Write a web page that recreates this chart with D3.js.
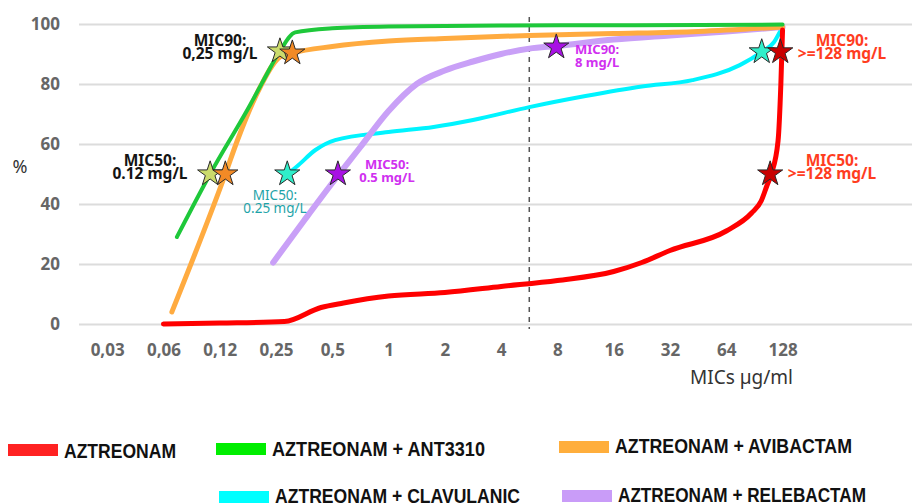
<!DOCTYPE html>
<html>
<head>
<meta charset="utf-8">
<script src="https://cdn.jsdelivr.net/npm/d3@7"></script>
<style>
  html, body { margin: 0; padding: 0; background: #fff; }
  svg { display: block; font-family: "Noto Sans", "Open Sans", sans-serif; }
</style>
</head>
<body>
<svg id="chart" width="912" height="504"></svg>
<script>
// x axis categories (MIC, log2 steps)
const micLabels = ["0,03", "0,06", "0,12", "0,25", "0,5", "1", "2", "4", "8", "16", "32", "64", "128"];
const micLog2 = [-5, -4, -3, -2, -1, 0, 1, 2, 3, 4, 5, 6, 7];
const yTicks = [0, 20, 40, 60, 80, 100];

// cumulative % of isolates, points as [log2(MIC), %]
const aztreonam = [[-4, 0], [-3, 0.3], [-1.85, 0.8], [-1.2, 5.5], [-0.8, 7], [0, 9.3], [1, 10.5], [2, 12.5],
  [3, 14.5], [4, 17.5], [4.5, 20.5], [5, 24.5], [6, 31], [6.45, 37], [6.62, 41], [6.72, 46], [6.8, 50],
  [6.92, 61], [6.97, 80], [7, 98]];
const aztAnt3310 = [[-3.76, 29], [-3.17, 50], [-2.46, 73], [-2.2, 82], [-1.93, 91], [-1.66, 97.2],
  [-1, 98.6], [0, 99.2], [2, 99.5], [4, 99.6], [7, 99.8]];
const aztAvibactam = [[-3.85, 4], [-2.9, 50], [-2.69, 61], [-2.28, 79], [-1.93, 89], [-1.71, 90.3], [-1, 92.5],
  [0, 94.3], [1, 95.2], [2.5, 96.2], [4, 96.8], [5.5, 97.5], [7, 99]];
const aztClavulanic = [[-1.8, 50], [-1.63, 52.5], [-1.3, 58], [-0.95, 61.3], [0, 64], [0.8, 65.7], [1.5, 68],
  [2.5, 72.3], [3.5, 76], [4.5, 79.2], [5.4, 81.3], [6.24, 86.3], [6.63, 90.7], [6.85, 94], [6.97, 98]];
const aztRelebactam = [[-2.05, 20.5], [-1.5, 34.5], [-1, 47], [-0.5, 59], [0, 71], [0.5, 80], [1, 84.5],
  [1.5, 87.5], [2, 90], [2.5, 91.8], [3, 92.7], [4, 94.8], [5, 96.2], [6, 97.5], [7, 99]];

const seriesNames = ["AZTREONAM", "AZTREONAM + ANT3310", "AZTREONAM + AVIBACTAM",
  "AZTREONAM + CLAVULANIC", "AZTREONAM + RELEBACTAM"];
const seriesData = [aztreonam, aztAnt3310, aztAvibactam, aztClavulanic, aztRelebactam];

// MIC50 / MIC90 markers: [series index, log2(MIC), %]
const micStars = [
  [1, -3.17, 50], [2, -2.9, 50], [1, -1.93, 91], [2, -1.71, 90.3],
  [3, -1.8, 50], [4, -0.9, 50], [4, 2.98, 92.3],
  [3, 6.63, 90.7], [0, 6.78, 50], [0, 6.96, 90.7]
];

// styling
const lineColors = ["#ff0000", "#1ec83a", "#ffab40", "#00f4ff", "#c9a0f7"];
const lineWidths = [5, 4, 5, 4, 6];
const legendColors = ["#ff2222", "#00ee00", "#ffae3c", "#00ffff", "#c99cf8"];
const starColors = ["#c80000", "#cbdb6c", "#f28a26", "#30efca", "#a812e4"];
const drawOrder = [3, 4, 2, 1, 0];

const svg = d3.select("#chart");

const x = d3.scaleLinear().domain([-5.5, 9.3]).range([79, 912]);
const y = d3.scaleLinear().domain([0, 100]).range([324, 24]);

// gridlines + y labels
const yAxis = svg.append("g")
  .attr("transform", `translate(${x(-5.5)},0)`)
  .call(d3.axisLeft(y).tickValues(yTicks).tickSize(-(912 - 79)).tickPadding(19));
yAxis.select(".domain").remove();
yAxis.selectAll(".tick line").attr("stroke", "#dcdcdc").attr("stroke-width", 2);
yAxis.selectAll(".tick text")
  .attr("fill", "#666").style("font-size", "17px").style("font-weight", "bold")
  .style("font-family", "'Noto Sans', sans-serif");

// x labels
const xAxis = svg.append("g")
  .attr("transform", "translate(0,344)")
  .call(d3.axisBottom(x).tickValues(micLog2).tickFormat((d, i) => micLabels[i]).tickSize(0).tickPadding(0));
xAxis.select(".domain").remove();
xAxis.selectAll(".tick text")
  .attr("fill", "#666").attr("dy", "0.71em").style("font-size", "17px").style("font-weight", "bold")
  .style("font-family", "'Noto Sans', sans-serif");

// dashed separator between 4 and 8
svg.append("line")
  .attr("x1", x(2.5)).attr("x2", x(2.5))
  .attr("y1", 17).attr("y2", 329)
  .attr("stroke", "#555").attr("stroke-width", 1.5).attr("stroke-dasharray", "5,5");

// curves
const line = d3.line()
  .x(d => x(d[0]))
  .y(d => y(d[1]))
  .curve(d3.curveMonotoneX);

svg.append("g")
  .selectAll("path")
  .data(drawOrder)
  .join("path")
  .attr("d", i => line(seriesData[i]))
  .attr("fill", "none")
  .attr("stroke", i => lineColors[i])
  .attr("stroke-width", i => lineWidths[i])
  .attr("stroke-linecap", "round")
  .attr("stroke-linejoin", "round");

// stars
const star = d3.symbol().type(d3.symbolStar).size(195);
svg.append("g")
  .selectAll("path")
  .data(micStars)
  .join("path")
  .attr("d", star)
  .attr("transform", d => `translate(${x(d[1])},${y(d[2])})`)
  .attr("fill", d => starColors[d[0]])
  .attr("stroke", "#2a2a2a")
  .attr("stroke-width", 1);

// annotations
const notes = [
  { lines: ["MIC90:", "0,25 mg/L"], x: 220, y: 46, gap: 13, size: 15.5, anchor: "middle", color: "#141414" },
  { lines: ["MIC50:", "0.12 mg/L"], x: 150, y: 166, gap: 13, size: 15.5, anchor: "middle", color: "#141414" },
  { lines: ["MIC50:", "0.25 mg/L"], x: 275, y: 200, gap: 13, size: 13.5, anchor: "middle", color: "#1ea3a8", weight: 400 },
  { lines: ["MIC50:", "0.5 mg/L"], x: 387, y: 169, gap: 12.5, size: 13, anchor: "middle", color: "#d030f0" },
  { lines: ["MIC90:", "8 mg/L"], x: 575, y: 54, gap: 12.5, size: 13, anchor: "start", color: "#d030f0" },
  { lines: ["MIC90:", ">=128 mg/L"], x: 842, y: 46, gap: 13, size: 15.5, anchor: "middle", color: "#ff3d1f" },
  { lines: ["MIC50:", ">=128 mg/L"], x: 832, y: 166, gap: 13, size: 15.5, anchor: "middle", color: "#ff3d1f" }
];
notes.forEach(n => {
  const t = svg.append("text")
    .attr("x", n.x).attr("y", n.y)
    .attr("text-anchor", n.anchor)
    .attr("fill", n.color)
    .style("font-size", n.size + "px")
    .style("font-weight", n.weight || 700);
  n.lines.forEach((s, i) => {
    t.append("tspan").attr("x", n.x).attr("y", n.y + i * n.gap).text(s);
  });
});

// axis titles
svg.append("text").attr("x", 20).attr("y", 173).attr("text-anchor", "middle")
  .attr("fill", "#333").style("font-size", "18px").text("%");
svg.append("text").attr("x", 690).attr("y", 384)
  .attr("fill", "#333").style("font-size", "19px").text("MICs µg/ml");

// legend (narrow bold labels, widths as in the original)
const legendPos = [[8, 444, 458], [216, 443, 456], [559, 441, 453], [219, 491, 503], [562, 490, 502]];
const legendTextWidth = [112, 213, 237, 245, 248];
const legend = svg.append("g")
  .selectAll("g")
  .data(seriesNames)
  .join("g");
legend.append("rect")
  .attr("x", (d, i) => legendPos[i][0])
  .attr("y", (d, i) => legendPos[i][1])
  .attr("width", 50).attr("height", 12)
  .attr("fill", (d, i) => legendColors[i]);
legend.append("text")
  .attr("x", (d, i) => legendPos[i][0] + 56)
  .attr("y", (d, i) => legendPos[i][2])
  .attr("fill", "#111")
  .attr("textLength", (d, i) => legendTextWidth[i])
  .attr("lengthAdjust", "spacingAndGlyphs")
  .style("font-family", "'Liberation Sans', Arial, sans-serif")
  .style("font-weight", "700")
  .style("font-size", "20px")
  .text(d => d);
</script>
</body>
</html>
